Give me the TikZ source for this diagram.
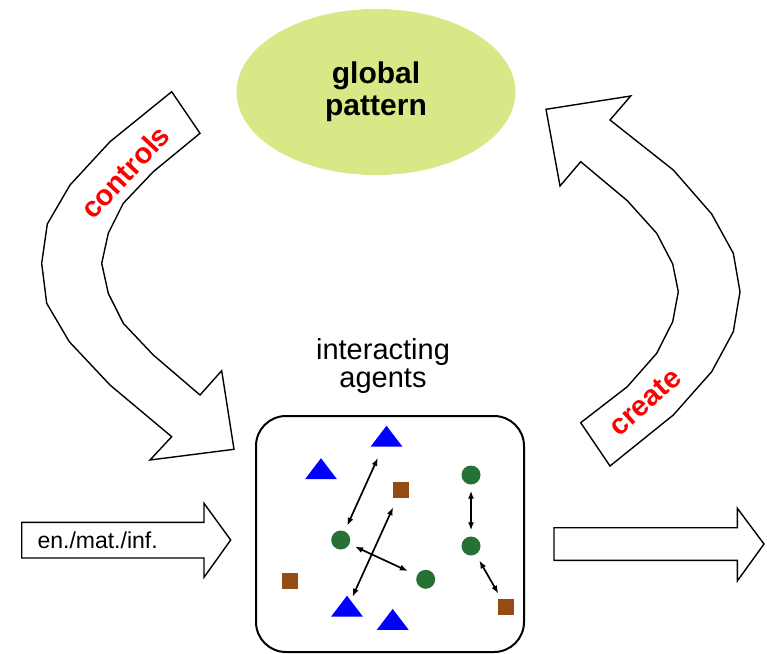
\documentclass[tikz,border=0pt]{standalone}
\usepackage{fontspec}
\setmainfont{Liberation Sans}
\usetikzlibrary{shapes.geometric,arrows.meta}

\definecolor{patterngreen}{RGB}{217,232,135}
\definecolor{agentblue}{RGB}{0,0,255}
\definecolor{agentbrown}{RGB}{151,75,20}
\definecolor{agentgreen}{RGB}{38,114,52}

\begin{document}
\begin{tikzpicture}[x=1pt, y=-1pt,
    fat arrow/.style={draw=black, line width=1.4pt, fill=white, line join=miter},
    red label/.style={text=red, font=\fontsize{29}{29}\selectfont\bfseries, inner sep=0pt},
    tri/.style={isosceles triangle, isosceles triangle apex angle=75,
        isosceles triangle stretches, shape border rotate=90, fill=agentblue,
        inner sep=0pt, minimum width=32pt, minimum height=21pt},
    sq/.style={rectangle, fill=agentbrown, inner sep=0pt, minimum size=16pt},
    blob/.style={circle, fill=agentgreen, inner sep=0pt, minimum size=19pt},
    link/.style={{Latex[length=8pt,width=6pt]}-{Latex[length=8pt,width=6pt]},
        line width=1.7pt, shorten <=6pt, shorten >=6pt}]
\useasboundingbox (0,0) rectangle (767,653);

% global pattern
\node[ellipse, fill=patterngreen, minimum width=279pt, minimum height=166pt,
    align=center, font=\fontsize{30}{32}\selectfont\bfseries] (pattern) at (376,92)
    {global\\pattern};

% arrow from the pattern down to the agents
\draw[fat arrow] (171.7,91.7) -- (110,141.7) -- (70,185) -- (47.3,224) -- (41.7,263.3)
    -- (46.7,303.3) -- (69.3,341.7) -- (110,385) -- (171.7,436.7) -- (150,460)
    -- (234,449.3) -- (221.7,370.7) -- (200,395) -- (153.3,355) -- (123.3,323.3)
    -- (108.3,293.3) -- (101.7,263.3) -- (108.3,233.3) -- (123.3,203.3)
    -- (153.3,171.7) -- (200,133.3) -- cycle;
\node[red label, rotate=47] (controls) at (125,172) {controls};

% arrow from the agents back up to the pattern
\draw[fat arrow] (580.7,422.7) -- (627.3,386.7) -- (656.7,353.3) -- (672.7,321.7)
    -- (678.3,291.7) -- (672.7,264) -- (656.7,233.3) -- (627.3,200.7)
    -- (580.7,161.7) -- (560,186) -- (546,109.3) -- (630.7,96) -- (610,120)
    -- (673.3,170) -- (711.7,214) -- (733.3,253.3) -- (740,291.7) -- (733.3,331.7)
    -- (711.7,371.7) -- (673.3,415) -- (610,466) -- cycle;
\node[red label, rotate=42] (create) at (645,402) {create};

% input and output
\draw[fat arrow] (21.7,522.3) -- (204,522.3) -- (204,503.3) -- (230.7,540)
    -- (204,577.3) -- (204,558) -- (21.7,558) -- cycle;
\node[anchor=west, font=\fontsize{23}{23}\selectfont] (input) at (34,540) {en./mat./inf.};
\draw[fat arrow] (554,527.7) -- (737.3,527.7) -- (737.3,508.3) -- (764,544)
    -- (737.3,581) -- (737.3,560.3) -- (554,560.3) -- cycle;

% the agents
\node[draw, line width=2pt, rounded corners=30pt, minimum width=268pt,
    minimum height=236pt] (box) at (390,534) {};
\node[align=center, font=\fontsize{29}{28}\selectfont] (title) at (383,366)
    {interacting\\agents};

\node[tri] (t1) at (386.5,438.8) {};
\node[tri] (t2) at (321,471.3) {};
\node[tri] (t3) at (347,608.8) {};
\node[tri] (t4) at (392.7,622) {};
\node[sq] (s1) at (401,490) {};
\node[sq] (s2) at (290,581) {};
\node[sq] (s3) at (506,607) {};
\node[blob] (g1) at (340.7,540) {};
\node[blob] (g2) at (425.7,579.3) {};
\node[blob] (g3) at (471,475) {};
\node[blob] (g4) at (471,546) {};

% interactions
\draw[link, shorten <=12pt] (t1) -- (g1);
\draw[link, shorten <=10pt, shorten >=4pt] (s1) -- (t3);
\draw[link, shorten >=10pt] (g1) -- (g2);
\draw[link] (g3) -- (g4);
\draw[link, shorten <=7pt] (g4) -- (s3);
\end{tikzpicture}
\end{document}
